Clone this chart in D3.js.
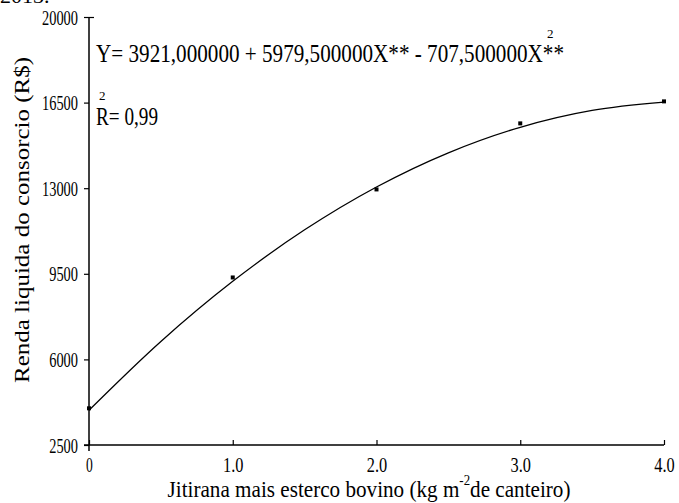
<!DOCTYPE html>
<html lang="pt">
<head>
<meta charset="UTF-8">
<title>Renda liquida do consorcio</title>
<style>
  body { margin: 0; background: #fff; }
</style>
</head>
<body>
<svg id="chart" width="679" height="503"></svg>
<script src="https://d3js.org/d3.v7.min.js"></script>
<script>
// observed means
var doses = [0, 1, 2, 3, 4];
var renda = [4000, 9350, 12950, 15650, 16550];

// fitted curve
var fitX = [0, 0.5, 1, 1.5, 2, 2.5, 3, 3.5, 4];
var fitY = [3921, 6734, 9193, 11298, 13050, 14448, 15492, 16182, 16519];

var xTicks = [0, 1, 2, 3, 4];
var xTickLabels = ["0", "1.0", "2.0", "3.0", "4.0"];
var yTicks = [2500, 6000, 9500, 13000, 16500, 20000];

var FONT = "'Liberation Serif', 'Times New Roman', serif";

var svg = d3.select("#chart");

var x = d3.scaleLinear().domain([0, 4]).range([89, 664]);
var y = d3.scaleLinear().domain([2500, 20000]).range([445, 17]);

// narrow serif look: squeeze text to a measured width
function squeeze(sel, perChar) {
    sel.attr("textLength", function () { return this.textContent.length * perChar; })
       .attr("lengthAdjust", "spacingAndGlyphs");
}

// top line of caption, cut off by the frame
svg.append("text").attr("x", 0).attr("y", 3).style("font-size", "22px").text("2013.");

// y axis
var yAxis = svg.append("g")
    .attr("transform", "translate(" + x(0) + ",0)")
    .call(d3.axisLeft(y).tickValues(yTicks).tickSize(5).tickPadding(6).tickFormat(d3.format("d")));
yAxis.select(".domain").attr("d", "M0," + (y(20000)) + "V" + (y(2500) + 6)).attr("stroke", "#000").attr("stroke-width", 1.5);
yAxis.selectAll(".tick line").attr("stroke", "#000").attr("stroke-width", 1.2);
yAxis.selectAll(".tick").filter(function (d) { return d === 20000; })
    .select("line").attr("x2", -5).attr("x1", 5);
yAxis.selectAll(".tick text")
    .style("font-size", "20px")
    .attr("dy", "0.35em")
    .call(squeeze, 7.2);

// x axis
var xAxis = svg.append("g")
    .attr("transform", "translate(0," + y(2500) + ")")
    .call(d3.axisBottom(x).tickValues(xTicks).tickSize(0).tickPadding(11)
        .tickFormat(function (d, i) { return xTickLabels[i]; }));
xAxis.select(".domain").attr("d", "M" + (x(0) - 5) + ",0H" + x(4)).attr("stroke", "#000").attr("stroke-width", 1.5);
xAxis.selectAll(".tick line").attr("y1", 0).attr("y2", -5).attr("stroke", "#000").attr("stroke-width", 1.2);
xAxis.selectAll(".tick text")
    .style("font-size", "22px")
    .call(squeeze, 6.8);

// fitted curve
var line = d3.line()
    .x(function (d, i) { return x(fitX[i]); })
    .y(function (d) { return y(d); })
    .curve(d3.curveCatmullRom);
svg.append("path").datum(fitY)
    .attr("d", line)
    .attr("fill", "none").attr("stroke", "#000").attr("stroke-width", 1.3);

// points
svg.selectAll("rect.pt").data(renda).enter().append("rect")
    .attr("class", "pt")
    .attr("x", function (d, i) { return x(doses[i]) - 2; })
    .attr("y", function (d) { return y(d) - 2; })
    .attr("width", 4).attr("height", 4)
    .attr("fill", "#000");

// equation
svg.append("text").attr("x", 96).attr("y", 62).style("font-size", "25px")
    .attr("textLength", 468).attr("lengthAdjust", "spacingAndGlyphs")
    .text("Y= 3921,000000 + 5979,500000X** - 707,500000X**");
svg.append("text").attr("x", 547).attr("y", 38).style("font-size", "13px").text("2");

svg.append("text").attr("x", 96).attr("y", 125).style("font-size", "25px")
    .attr("textLength", 62).attr("lengthAdjust", "spacingAndGlyphs")
    .text("R= 0,99");
svg.append("text").attr("x", 99).attr("y", 100).style("font-size", "13px").text("2");

// axis titles
var xt = svg.append("text")
    .attr("transform", "translate(369,497) scale(0.92,1)")
    .attr("text-anchor", "middle").style("font-size", "23px");
xt.append("tspan").text("Jitirana mais esterco bovino (kg m");
xt.append("tspan").attr("dy", -12).style("font-size", "14px").text("-2");
xt.append("tspan").attr("dy", 12).text("de canteiro)");

svg.append("text")
    .attr("transform", "translate(29,220) rotate(-90)")
    .attr("text-anchor", "middle").style("font-size", "22px")
    .attr("textLength", 326).attr("lengthAdjust", "spacingAndGlyphs")
    .text("Renda liquida do consorcio (R$)");

svg.selectAll("text").style("font-family", FONT).attr("fill", "#000");
</script>
</body>
</html>
